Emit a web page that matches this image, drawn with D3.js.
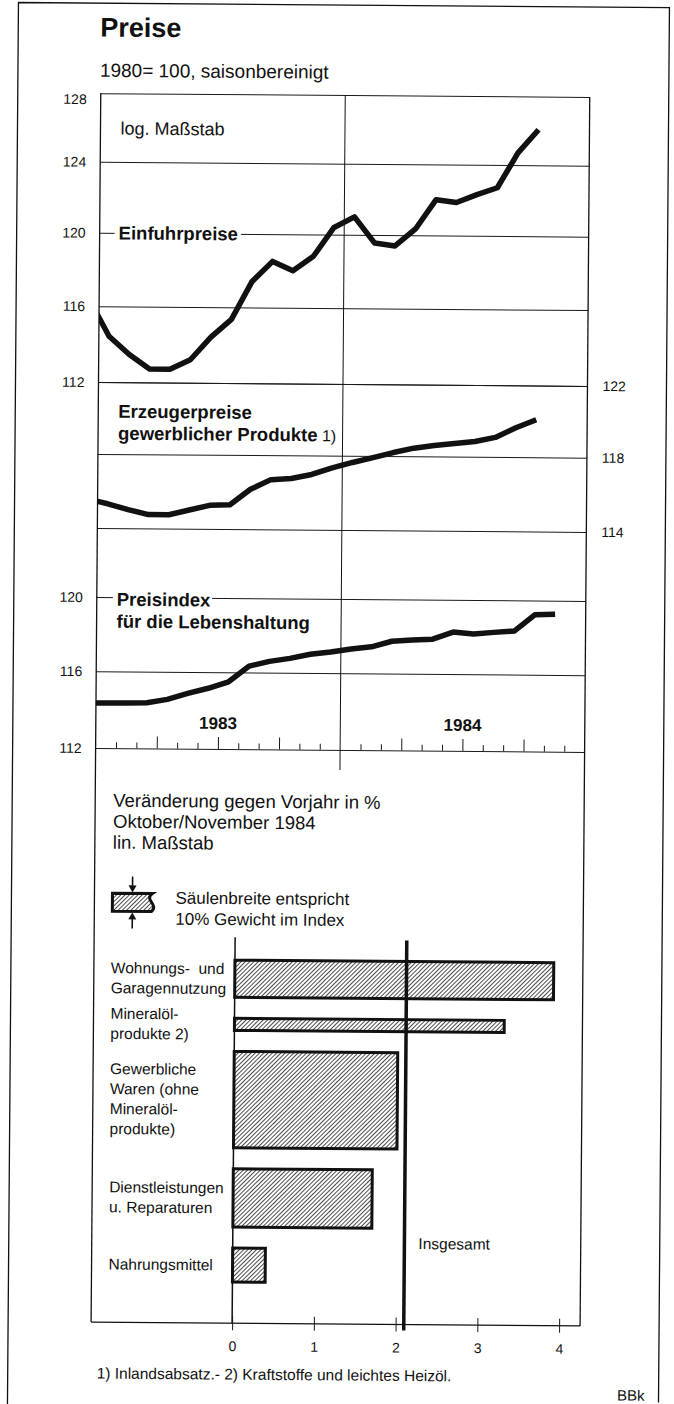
<!DOCTYPE html>
<meta charset="utf-8">
<style>
  body { margin: 0; background: #fff; }
  svg { display: block; }
  text { font-family: "Liberation Sans", Arial, Helvetica, sans-serif; fill: #111; }
  .grid line { stroke: #1a1a1a; stroke-width: 1; }
  .grid .domain { display: none; }
  .grid text { font-size: 14px; font-family: "Liberation Sans", Arial, sans-serif; fill: #111; }
  .frame { fill: none; stroke: #111; stroke-width: 1.3; }
  .series { fill: none; stroke: #111; stroke-width: 5.5; stroke-linejoin: round; }
  .bar { fill: url(#hatch); stroke: #111; stroke-width: 3; }
</style>
<svg width="674" height="1404"></svg>
<script src="https://d3js.org/d3.v7.min.js"></script>
<script>
  // Monatswerte Dez 1982 - Nov 1984, Dez 1982 nur fuer den Anschluss an die Achse
  var months = ["Dez 82", "Jan 83", "Feb 83", "Mrz 83", "Apr 83", "Mai 83", "Jun 83", "Jul 83", "Aug 83", "Sep 83", "Okt 83", "Nov 83", "Dez 83",
    "Jan 84", "Feb 84", "Mrz 84", "Apr 84", "Mai 84", "Jun 84", "Jul 84", "Aug 84", "Sep 84", "Okt 84", "Nov 84"];

  var einfuhr = [116.4, 114.4, 113.45, 112.7, 112.7, 113.2, 114.4, 115.35, 117.4, 118.5, 118.0, 118.8, 120.4,
    121.0, 119.55, 119.4, 120.35, 122.0, 121.85, 122.3, 122.7, 124.7, 126.05, null];
  var erzeuger = [115.55, 115.3, 115.0, 114.74, 114.74, 115.0, 115.26, 115.3, 116.14, 116.67, 116.74, 116.97, 117.34,
    117.64, 117.91, 118.2, 118.45, 118.6, 118.72, 118.84, 119.08, 119.62, 120.08, null];
  var lebenshaltung = [114.33, 114.33, 114.35, 114.37, 114.55, 114.87, 115.15, 115.5, 116.34, 116.6, 116.77, 117.0, 117.13,
    117.3, 117.42, 117.73, 117.8, 117.86, 118.25, 118.15, 118.25, 118.33, 119.22, 119.26];

  var ticksEinfuhr = [112, 116, 120, 124, 128];
  var ticksErzeuger = [114, 118, 122];
  var ticksLeben = [112, 116, 120];
  var years = ["1983", "1984"];

  // Veraenderung gegen Vorjahr in %, Okt/Nov 1984
  var barLabels = [["Wohnungs-  und", "Garagennutzung"], ["Mineralöl-", "produkte 2)"],
    ["Gewerbliche", "Waren (ohne", "Mineralöl-", "produkte)"], ["Dienstleistungen", "u. Reparaturen"], ["Nahrungsmittel"]];
  var barValues = [3.9, 3.3, 2.0, 1.7, 0.4];
  var barWeights = [15.5, 5.1, 40.3, 24.4, 14.2];
  var insgesamt = 2.1;
  var barTicks = [0, 1, 2, 3, 4];

  var svg = d3.select("svg");
  // die Vorlage ist leicht schraeg gescannt
  var root = svg.append("g").attr("transform", "rotate(0.45,337,700)");

  var defs = svg.append("defs");
  var hatch = defs.append("pattern").attr("id", "hatch")
    .attr("patternUnits", "userSpaceOnUse").attr("width", 3).attr("height", 3)
    .attr("patternTransform", "rotate(45)");
  hatch.append("rect").attr("width", 3).attr("height", 3).attr("fill", "#fff");
  hatch.append("line").attr("x1", 0).attr("y1", 0).attr("x2", 0).attr("y2", 3)
    .attr("stroke", "#111").attr("stroke-width", 1.5);

  var L = 96, R = 585;
  var x = d3.scaleLinear().domain([0, 24]).range([L, R]);
  var yEin = d3.scaleLog().domain([112, 128]).range([384, 95]);
  var yErz = d3.scaleLog().domain([114, 122]).range([530, 384]);
  var yLeb = d3.scaleLog().domain([112, 120]).range([750, 599]);

  defs.append("clipPath").attr("id", "plot")
    .append("rect").attr("x", L).attr("y", 90).attr("width", R - L).attr("height", 665);

  function txt(g, px, py, s, size, weight, anchor) {
    return g.append("text").attr("x", px).attr("y", py).attr("dy", "0.35em")
      .attr("font-size", size).attr("font-weight", weight || "normal")
      .attr("text-anchor", anchor || "start").text(s);
  }

  // Aussenrahmen
  root.append("path").attr("class", "frame")
    .attr("d", "M13,1410 V5 H664 V1400");

  txt(root, 95, 29, "Preise", 27, "bold");
  txt(root, 95, 72, "1980= 100, saisonbereinigt", 19);

  // Gitter und Achsen
  root.append("g").attr("class", "grid").attr("transform", "translate(" + L + ",0)")
    .call(d3.axisLeft(yEin).tickValues(ticksEinfuhr).tickSize(-(R - L)).tickPadding(14).tickFormat(d3.format("d")))
    .selectAll(".tick text").filter(function(d) { return d === 128; }).attr("y", 6);

  root.append("g").attr("class", "grid").attr("transform", "translate(" + R + ",0)")
    .call(d3.axisRight(yErz).tickValues(ticksErzeuger).tickSize(-(R - L)).tickPadding(15).tickFormat(d3.format("d")));

  root.append("g").attr("class", "grid").attr("transform", "translate(" + L + ",0)")
    .call(d3.axisLeft(yLeb).tickValues(ticksLeben).tickSize(-(R - L)).tickPadding(14).tickFormat(d3.format("d")));

  var xAxis = root.append("g").attr("class", "grid").attr("transform", "translate(0," + yLeb(112) + ")")
    .call(d3.axisTop(x).tickValues(d3.range(1, 24).filter(function(m) { return m !== 12; }))
      .tickSize(6).tickSizeOuter(0).tickFormat(""));
  xAxis.selectAll(".tick line").attr("y2", function(d) { return d % 3 === 0 ? -12 : -6; });

  // Rahmen des Diagramms
  root.append("line").attr("class", "frame").attr("x1", L).attr("x2", L).attr("y1", yEin(128)).attr("y2", 1324);
  root.append("line").attr("class", "frame").attr("x1", R).attr("x2", R).attr("y1", yEin(128)).attr("y2", 1324);
  root.append("line").attr("class", "frame").attr("x1", x(12)).attr("x2", x(12)).attr("y1", yEin(128)).attr("y2", 770)
    .style("stroke-width", 1);

  years.forEach(function(yr, i) {
    txt(root, x(6 + 12 * i), 724, yr, 17, "bold", "middle");
  });

  txt(root, 116, 130, "log. Maßstab", 18);

  // Beschriftungen der Reihen
  var ein = txt(root, 115, yEin(120), "Einfuhrpreise", 18.5, "bold");
  var b = ein.node().getBBox();
  root.insert("rect", function() { return ein.node(); })
    .attr("x", b.x - 4).attr("y", b.y).attr("width", b.width + 7).attr("height", b.height).attr("fill", "#fff");

  txt(root, 116, 413, "Erzeugerpreise", 18.5, "bold");
  var gp = txt(root, 116, 435, "gewerblicher Produkte", 18.5, "bold");
  gp.append("tspan").attr("font-weight", "normal").attr("font-size", 16).text(" 1)");

  var pi = txt(root, 116, yLeb(120) + 2, "Preisindex", 18.5, "bold");
  b = pi.node().getBBox();
  root.insert("rect", function() { return pi.node(); })
    .attr("x", b.x - 4).attr("y", b.y).attr("width", b.width + 5).attr("height", b.height).attr("fill", "#fff");
  txt(root, 116, 623, "für die Lebenshaltung", 18.5, "bold");

  // Linien
  var lines = root.append("g").attr("clip-path", "url(#plot)");
  [[einfuhr, yEin], [erzeuger, yErz], [lebenshaltung, yLeb]].forEach(function(s) {
    var line = d3.line()
      .defined(function(d) { return d !== null; })
      .x(function(d, i) { return x(i - 0.5); })
      .y(function(d) { return s[1](d); });
    lines.append("path").datum(s[0]).attr("class", "series").attr("d", line);
  });

  // unterer Teil: Saeulen
  txt(root, 114, 802, "Veränderung gegen Vorjahr in %", 18.5);
  txt(root, 114, 823, "Oktober/November 1984", 18.5);
  txt(root, 114, 844, "lin. Maßstab", 18.5);

  var xb = d3.scaleLinear().domain([0, 4]).range([237, 564]);
  var wS = d3.scaleLinear().domain([0, 100]).range([0, 239]);

  // Legende
  var lgTop = 895, lgH = 18, lgX = 114, lgW = 40;
  root.append("path").attr("class", "bar")
    .attr("d", "M" + lgX + "," + lgTop + " H" + (lgX + lgW) +
      " C" + (lgX + lgW - 9) + "," + (lgTop + lgH * 0.35) + " " + (lgX + lgW + 7) + "," + (lgTop + lgH * 0.6) +
      " " + (lgX + lgW - 1) + "," + (lgTop + lgH) + " H" + lgX + " Z");
  var ax = lgX + 20;
  root.append("line").attr("x1", ax).attr("x2", ax).attr("y1", lgTop - 17).attr("y2", lgTop - 6)
    .attr("stroke", "#111").attr("stroke-width", 1.6);
  root.append("path").attr("d", "M" + (ax - 4) + "," + (lgTop - 8) + " L" + (ax + 4) + "," + (lgTop - 8) + " L" + ax + "," + (lgTop - 1) + " Z")
    .attr("fill", "#111");
  root.append("line").attr("x1", ax).attr("x2", ax).attr("y1", lgTop + lgH + 6).attr("y2", lgTop + lgH + 17)
    .attr("stroke", "#111").attr("stroke-width", 1.6);
  root.append("path").attr("d", "M" + (ax - 4) + "," + (lgTop + lgH + 8) + " L" + (ax + 4) + "," + (lgTop + lgH + 8) + " L" + ax + "," + (lgTop + lgH + 1) + " Z")
    .attr("fill", "#111");
  txt(root, 177, 899, "Säulenbreite entspricht", 17);
  txt(root, 177, 920, "10% Gewicht im Index", 17);

  var barY = [], acc = 961;
  barWeights.forEach(function(w) { barY.push(acc); acc += wS(w) + 21; });

  root.append("line").attr("x1", xb(0)).attr("x2", xb(0)).attr("y1", 938).attr("y2", 1324)
    .attr("stroke", "#111").attr("stroke-width", 1.5);

  root.selectAll(".barrect").data(barValues).enter().append("rect")
    .attr("class", "bar")
    .attr("x", xb(0))
    .attr("y", function(d, i) { return barY[i]; })
    .attr("width", function(d) { return xb(d) - xb(0); })
    .attr("height", function(d, i) { return wS(barWeights[i]); });

  barLabels.forEach(function(lines, i) {
    var c = barY[i] + wS(barWeights[i]) / 2;
    lines.forEach(function(s, j) {
      txt(root, 113, c + (j - (lines.length - 1) / 2) * 20, s, 15.5).style("white-space", "pre");
    });
  });

  root.append("line").attr("x1", xb(insgesamt)).attr("x2", xb(insgesamt)).attr("y1", 940).attr("y2", 1330)
    .attr("stroke", "#111").attr("stroke-width", 3.5);
  txt(root, xb(insgesamt) + 14, 1243, "Insgesamt", 15.5);

  // Achse unten (zugleich Rahmen)
  root.append("line").attr("class", "frame").attr("x1", L).attr("x2", R).attr("y1", 1324).attr("y2", 1324);
  var bAxis = root.append("g").attr("class", "grid").attr("transform", "translate(0,1324)")
    .call(d3.axisBottom(xb).tickValues(barTicks).tickSize(7).tickSizeOuter(0).tickPadding(11).tickFormat(d3.format("d")));
  bAxis.selectAll(".tick line").attr("y1", -7).attr("stroke-width", 1.5);
  bAxis.selectAll(".tick text").attr("font-size", 16);

  txt(root, 102, 1375, "1) Inlandsabsatz.- 2) Kraftstoffe und leichtes Heizöl.", 15.5);
  txt(root, 650, 1393, "BBk", 15, "normal", "end");
</script>
